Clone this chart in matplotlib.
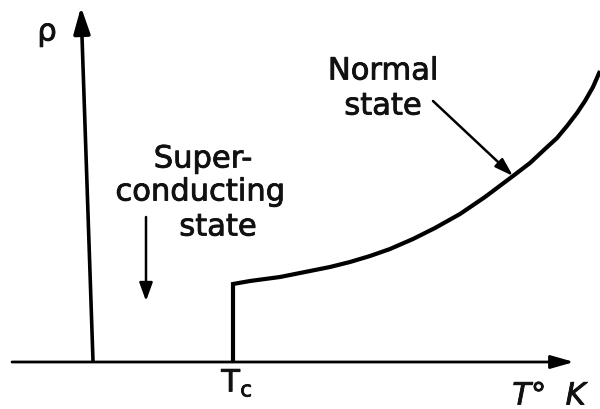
import matplotlib.pyplot as plt
import matplotlib.patheffects as pe

# resistivity vs temperature for a superconductor (drawing units)
Tc = 233
rho_c = 77
T_normal = [233, 250, 280, 300, 330, 350, 370, 390, 413, 435, 460, 485,
            513, 530, 545, 557, 567, 577, 585, 593, 600]
rho_normal = [77, 80, 84, 88, 94, 99, 105, 112, 122, 133, 147, 164,
              185, 198, 212, 223, 235, 248, 260, 274, 290]

fig = plt.figure(figsize=(6, 4.1), dpi=100)
ax = fig.add_axes([0, 0, 1, 1])
ax.set_xlim(0, 600)
ax.set_ylim(-48, 362)
ax.axis('off')

# axes drawn as arrows
ax.annotate('', xy=(574, -1), xytext=(12, -1),
            arrowprops=dict(arrowstyle='-|>,head_length=1.4,head_width=0.4',
                            lw=2, color='black', shrinkA=0, shrinkB=0))
ax.annotate('', xy=(81, 354), xytext=(93, 0),
            arrowprops=dict(arrowstyle='-|>,head_length=1.6,head_width=0.5',
                            lw=2.6, color='black', shrinkA=0, shrinkB=0))

# zero resistance below Tc, then the jump into the normal state
ax.plot([Tc] + T_normal, [0] + rho_normal, color='black', lw=3,
        solid_joinstyle='miter', solid_capstyle='butt')

# slightly heavier than the regular weight
heavy = [pe.withStroke(linewidth=0.6, foreground='#111111')]
font = dict(family='DejaVu Sans', fontsize=22, color='#111111',
            path_effects=heavy)
ax.text(47, 329, 'ρ', ha='center', va='center', **font)
ax.text(383, 290, 'Normal', ha='center', va='center', **font)
ax.text(383, 255, 'state', ha='center', va='center', **font)
ax.text(203, 202, 'Super-', ha='center', va='center', **font)
ax.text(200, 169, 'conducting', ha='center', va='center', **font)
ax.text(218, 134, 'state', ha='center', va='center', **font)

ax.annotate('', xy=(513, 185), xytext=(433, 260),
            arrowprops=dict(arrowstyle='-|>,head_length=1.1,head_width=0.35',
                            lw=1.8, color='black', shrinkA=0, shrinkB=0))
ax.annotate('', xy=(146, 60), xytext=(146, 144),
            arrowprops=dict(arrowstyle='-|>,head_length=1.1,head_width=0.4',
                            lw=1.8, color='black', shrinkA=0, shrinkB=0))

ax.text(Tc + 4, -22, r'T$_\mathregular{c}$', ha='center', va='center', **font)
ax.text(549, -35, 'T°  K', ha='center', va='center', style='italic', **font)

fig.savefig('out.png', dpi=100)
